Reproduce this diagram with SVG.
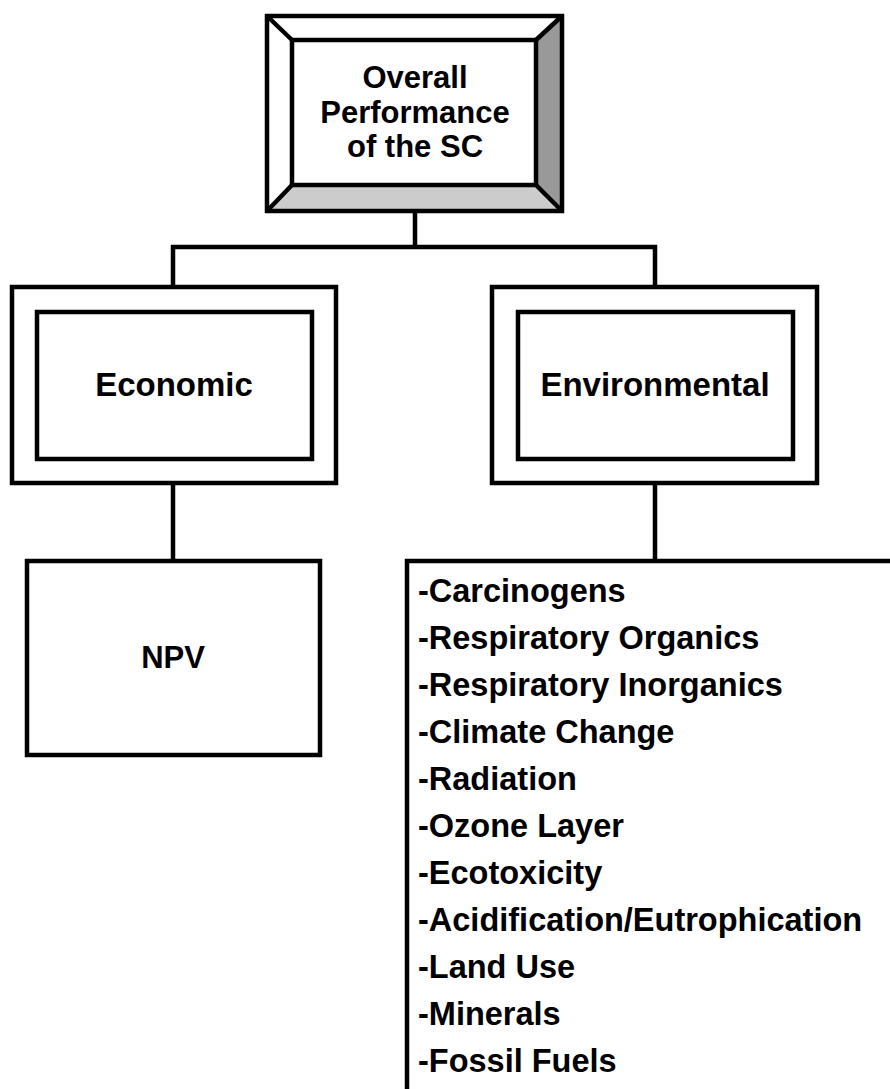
<svg xmlns="http://www.w3.org/2000/svg" width="890" height="1089" viewBox="0 0 890 1089">
<style>
.ln{fill:none;stroke:#000;stroke-width:4.5;stroke-linejoin:miter}
.bx{fill:#fff;stroke:#000;stroke-width:4.5}
.t{font-family:"Liberation Sans",Arial,sans-serif;font-weight:bold;fill:#000}
.c{text-anchor:middle}
</style>
<rect x="0" y="0" width="890" height="1089" fill="#fff"/>
<g id="connectors">
<path class="ln" d="M415 211 V247 M173 287 V247 H655 V287"/>
<path class="ln" d="M173 483 V561"/>
<path class="ln" d="M655 483 V561"/>
</g>
<g id="top">
<polygon points="267,16 562,16 536,40 292,40" fill="#fff"/>
<polygon points="267,16 292,40 292,185 267,211" fill="#fff"/>
<polygon points="562,16 562,211 536,185 536,40" fill="#999"/>
<polygon points="267,211 292,185 536,185 562,211" fill="#ccc"/>
<rect class="ln" x="267" y="16" width="295" height="195"/>
<rect class="ln" x="292" y="40" width="244" height="145"/>
<path class="ln" d="M267 16 L292 40 M562 16 L536 40 M267 211 L292 185 M562 211 L536 185"/>
<text class="t c" x="415" y="88" font-size="31">Overall</text>
<text class="t c" x="415" y="123" font-size="31">Performance</text>
<text class="t c" x="415" y="157" font-size="31">of the SC</text>
</g>
<g id="economic">
<rect class="bx" x="12" y="287" width="324" height="196"/>
<rect class="bx" x="37" y="312" width="275" height="147"/>
<text class="t c" x="174" y="396" font-size="33">Economic</text>
</g>
<g id="environmental">
<rect class="bx" x="492" y="287" width="325" height="196"/>
<rect class="bx" x="518" y="312" width="275" height="147"/>
<text class="t c" x="655" y="396" font-size="33">Environmental</text>
</g>
<g id="npv">
<rect class="bx" x="27" y="561" width="293" height="194"/>
<text class="t c" x="173" y="668" font-size="31">NPV</text>
</g>
<g id="impacts">
<path class="ln" d="M407 1095 V561 H895"/>
<g class="t" font-size="32.5">
<text x="418" y="602">-Carcinogens</text>
<text x="418" y="649">-Respiratory Organics</text>
<text x="418" y="696">-Respiratory Inorganics</text>
<text x="418" y="743">-Climate Change</text>
<text x="418" y="790">-Radiation</text>
<text x="418" y="837">-Ozone Layer</text>
<text x="418" y="884">-Ecotoxicity</text>
<text x="418" y="931">-Acidification/Eutrophication</text>
<text x="418" y="978">-Land Use</text>
<text x="418" y="1025">-Minerals</text>
<text x="418" y="1072">-Fossil Fuels</text>
</g>
</g>
</svg>
